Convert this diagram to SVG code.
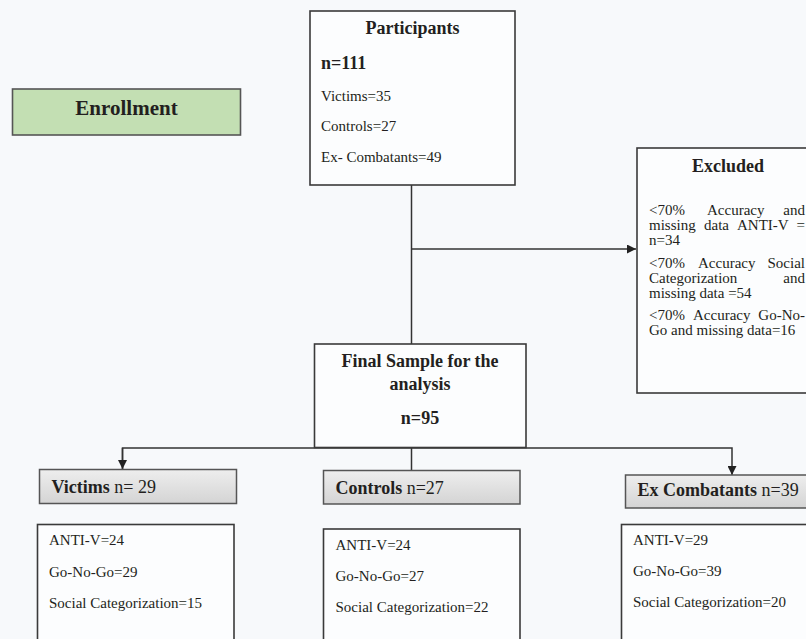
<svg xmlns="http://www.w3.org/2000/svg" width="806" height="639" viewBox="0 0 806 639">
<defs>
<style>
text{font-family:"Liberation Serif","Times New Roman",serif;fill:#231f20}
.b{font-weight:bold}
.t18{font-size:18px}
.t15{font-size:15px}
.box{fill:#fcfdfe;stroke:#3a3a3a;stroke-width:1.6}
.hdr{fill:url(#g);stroke:#555;stroke-width:1.5}
.ln{fill:none;stroke:#333;stroke-width:1.5}
</style>
<linearGradient id="g" x1="0" y1="0" x2="0" y2="1">
<stop offset="0" stop-color="#eeeeee"/>
<stop offset="1" stop-color="#d4d4d4"/>
</linearGradient>
<marker id="ah" viewBox="0 0 10 10" refX="10" refY="5" markerWidth="10" markerHeight="9" markerUnits="userSpaceOnUse" orient="auto">
<path d="M0,0 L10,5 L0,10 z" fill="#222"/>
</marker>
</defs>
<rect width="806" height="639" fill="#f7f9fb"/>
<g id="connectors">
<path class="ln" d="M411.5,185 V344"/>
<path class="ln" d="M411.5,249 H636" marker-end="url(#ah)"/>
<path class="ln" d="M122.5,469 V448 H732 V475" marker-end="url(#ah)"/>
<path class="ln" d="M122.5,448 V469" marker-end="url(#ah)"/>
<path class="ln" d="M411.5,448 V470.5"/>
</g>
<g id="enrollment">
<rect x="12.5" y="89" width="228" height="46" fill="#c3dfb3" stroke="#555" stroke-width="1.6"/>
<text class="b" x="126.5" y="115" text-anchor="middle" font-size="21">Enrollment</text>
</g>
<g id="participants">
<rect class="box" x="310" y="11" width="205" height="174" stroke-width="2"/>
<text class="b t18" x="412.5" y="34" text-anchor="middle">Participants</text>
<text class="b t18" x="321" y="69">n=111</text>
<text class="t15" x="321" y="101">Victims=35</text>
<text class="t15" x="321" y="131">Controls=27</text>
<text class="t15" x="321" y="162">Ex- Combatants=49</text>
</g>
<g id="excluded">
<rect class="box" x="637" y="148" width="180" height="245"/>
<text class="b t18" x="728" y="172" text-anchor="middle">Excluded</text>
<text x="649" y="215" class="t15">&lt;70%</text><text x="707" y="215" class="t15">Accuracy</text><text x="805" y="215" text-anchor="end" class="t15">and</text>
<text x="649" y="230" class="t15">missing</text><text x="704" y="230" class="t15">data</text><text x="737" y="230" class="t15">ANTI-V</text><text x="805" y="230" text-anchor="end" class="t15">=</text>
<text x="649" y="245" class="t15">n=34</text>
<text x="649" y="268" class="t15">&lt;70%</text><text x="698" y="268" class="t15">Accuracy</text><text x="805" y="268" text-anchor="end" class="t15">Social</text>
<text x="649" y="283" class="t15">Categorization</text><text x="805" y="283" text-anchor="end" class="t15">and</text>
<text x="649" y="298" class="t15">missing data =54</text>
<text x="649" y="320" class="t15">&lt;70%</text><text x="693" y="320" class="t15">Accuracy</text><text x="805" y="320" text-anchor="end" class="t15">Go-No-</text>
<text x="649" y="335" class="t15">Go and missing data=16</text>
</g>
<g id="final-sample">
<rect class="box" x="314.5" y="344" width="211.5" height="103.5"/>
<text class="b t18" x="420" y="367" text-anchor="middle">Final Sample for the</text>
<text class="b t18" x="420" y="390" text-anchor="middle">analysis</text>
<text class="b t18" x="420" y="424" text-anchor="middle">n=95</text>
</g>
<g id="victims-header">
<rect class="hdr" x="39.5" y="469.5" width="197" height="34"/>
<text class="t18" x="51.5" y="493"><tspan class="b">Victims</tspan> n= 29</text>
</g>
<g id="controls-header">
<rect class="hdr" x="323.5" y="470.5" width="196.5" height="33.5"/>
<text class="t18" x="335.5" y="493.5"><tspan class="b">Controls</tspan> n=27</text>
</g>
<g id="excombatants-header">
<rect class="hdr" x="625.5" y="475" width="200" height="33"/>
<text class="t18" x="637.5" y="496"><tspan class="b">Ex Combatants</tspan> n=39</text>
</g>
<g id="victims-detail">
<rect class="box" x="37.5" y="524.5" width="196.5" height="130"/>
<text class="t15" x="49" y="545">ANTI-V=24</text>
<text class="t15" x="49" y="577">Go-No-Go=29</text>
<text class="t15" x="49" y="608">Social Categorization=15</text>
</g>
<g id="controls-detail">
<rect class="box" x="323.5" y="529" width="196.5" height="130"/>
<text class="t15" x="335.5" y="549.5">ANTI-V=24</text>
<text class="t15" x="335.5" y="580.5">Go-No-Go=27</text>
<text class="t15" x="335.5" y="612">Social Categorization=22</text>
</g>
<g id="excombatants-detail">
<rect class="box" x="621.5" y="524.5" width="200" height="130"/>
<text class="t15" x="633" y="545">ANTI-V=29</text>
<text class="t15" x="633" y="576">Go-No-Go=39</text>
<text class="t15" x="633" y="607">Social Categorization=20</text>
</g>
</svg>
